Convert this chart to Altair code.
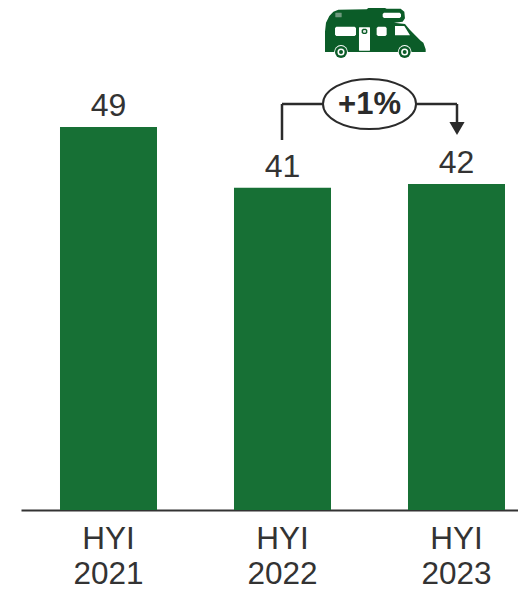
import altair as alt
import pandas as pd

categories = ["HYI|2021", "HYI|2022", "HYI|2023"]
values = [49.1, 41.3, 41.8]
labels = ["49", "41", "42"]
change_label = "+1%"

BAR = "#177035"
ICON = "#0b5c28"
INK = "#333333"
LINE = "#2b2b2b"
FONT = "Liberation Sans"

df = pd.DataFrame({"cat": categories, "v": values, "lab": labels})

x = alt.X("cat:N", sort=categories, title=None,
          scale=alt.Scale(paddingInner=0.4425, paddingOuter=0.1724, align=0.65),
          axis=alt.Axis(labelExpr="split(datum.label,'|')", labelAngle=0, labelFont=FONT,
                        labelFontSize=31.5, labelColor=INK, labelLineHeight=35, labelPadding=13,
                        ticks=False, domainColor=INK, domainWidth=2, grid=False))
y = alt.Y("v:Q", title=None, axis=None, scale=alt.Scale(domain=[0, 64.36], nice=False, zero=True))

bars = alt.Chart(df).mark_bar(color=BAR).encode(x=x, y=y)
texts = alt.Chart(df).mark_text(font=FONT, fontSize=32, color=INK, baseline="bottom", dy=-4).encode(
    x=alt.X("cat:N", sort=categories), y="v:Q", text="lab:N")

one = pd.DataFrame({"a": [0]})


def hrule(x1, x2, yy):
    return alt.Chart(one).mark_rule(color=LINE, strokeWidth=2.5).encode(
        x=alt.value(x1), x2=alt.value(x2), y=alt.value(yy))


def vrule(xx, y1, y2):
    return alt.Chart(one).mark_rule(color=LINE, strokeWidth=2.5).encode(
        x=alt.value(xx), y=alt.value(y1), y2=alt.value(y2))


def sym(xx, yy, shape, size, **kw):
    return alt.Chart(one).mark_point(shape=shape, size=size, opacity=1, **kw).encode(
        x=alt.value(xx), y=alt.value(yy))


# annotation, pixels relative to plot area (origin at page 21, 8)
OX, OY = 21, 8
conn = [
    hrule(282 - OX, 330 - OX, 104 - OY),
    hrule(410 - OX, 457 - OX, 104 - OY),
    vrule(282 - OX, 104 - OY, 140 - OY),
    vrule(457 - OX, 104 - OY, 125 - OY),
    sym(457 - OX, 128.5 - OY, "triangle-down", 230, filled=True, color=LINE, strokeWidth=0),
    sym(369.5 - OX, 104 - OY, "M-1,0 A1,0.54 0 1,1 1,0 A1,0.54 0 1,1 -1,0 Z", 8649,
        filled=True, fill="white", stroke=LINE, strokeWidth=2),
    alt.Chart(one).mark_text(text=change_label, font=FONT, fontSize=31, fontWeight="bold",
                             color=LINE, baseline="middle").encode(
        x=alt.value(369.5 - OX), y=alt.value(105 - OY)),
]

# van icon outlines, in 3x zoom coordinates
cx, cy, half = 316, 97, 151


def poly(points):
    return "M" + " L".join(f"{(px - cx) / half:.3f},{(py - cy) / half:.3f}" for px, py in points) + " Z"


def rect(x0, y0, x1, y1, c=4):
    return [(x0 + c, y0), (x1 - c, y0), (x1, y0 + c), (x1, y1 - c), (x1 - c, y1), (x0 + c, y1), (x0, y1 - c), (x0, y0 + c)]


body = poly([(165, 95), (168, 68), (178, 48), (190, 35), (205, 29), (290, 28), (295, 24), (345, 24), (350, 26),
             (392, 26), (403, 35), (405, 55), (398, 65), (372, 68), (405, 72), (420, 90), (452, 122), (460, 128),
             (467, 148), (467, 156), (165, 156)])
windows = " ".join(poly(p) for p in [
    rect(195, 80, 258, 108), rect(267, 82, 300, 152, 1), rect(320, 80, 350, 108),
    [(375, 78), (403, 78), (420, 106), (375, 106)], rect(338, 38, 393, 54)])
door_ring = poly(rect(275, 86, 292, 102, 4))
door_pane = poly(rect(279, 90, 288, 98, 2))
vent = poly(rect(196, 38, 215, 52, 1))
SIZE = (half / 3 * 2) ** 2
icx, icy = 270 + cx / 3 - OX, cy / 3 - OY

icon = [
    sym(icx, icy, body, SIZE, filled=True, color=ICON, strokeWidth=0),
    sym(icx, icy, windows, SIZE, filled=True, color="white", strokeWidth=0),
    sym(icx, icy, door_ring, SIZE, filled=True, color=ICON, strokeWidth=0),
    sym(icx, icy, door_pane, SIZE, filled=True, color="#dfe9e2", strokeWidth=0),
    sym(icx, icy, vent, SIZE, filled=True, color="#6f9a7e", strokeWidth=0),
]
for wx in (213, 404):
    wpx = 270 + wx / 3 - OX
    wpy = 156 / 3 - OY
    icon += [
        sym(wpx, wpy, "circle", 190, filled=True, color="white", strokeWidth=0),
        sym(wpx, wpy, "circle", 144, filled=True, color=ICON, strokeWidth=0),
        sym(wpx, wpy, "circle", 50, filled=True, color="white", strokeWidth=0),
        sym(wpx, wpy, "circle", 16, filled=True, color=ICON, strokeWidth=0),
    ]

chart = alt.layer(bars, texts, *conn, *icon).properties(
    width=505, height=502,
    autosize=alt.AutoSizeParams(type="none"),
    padding={"left": 13, "top": 0, "right": -8, "bottom": 80},
    background="white",
).configure_view(stroke=None)

chart.save("out.html", embed_options={"renderer": "svg", "actions": False})
